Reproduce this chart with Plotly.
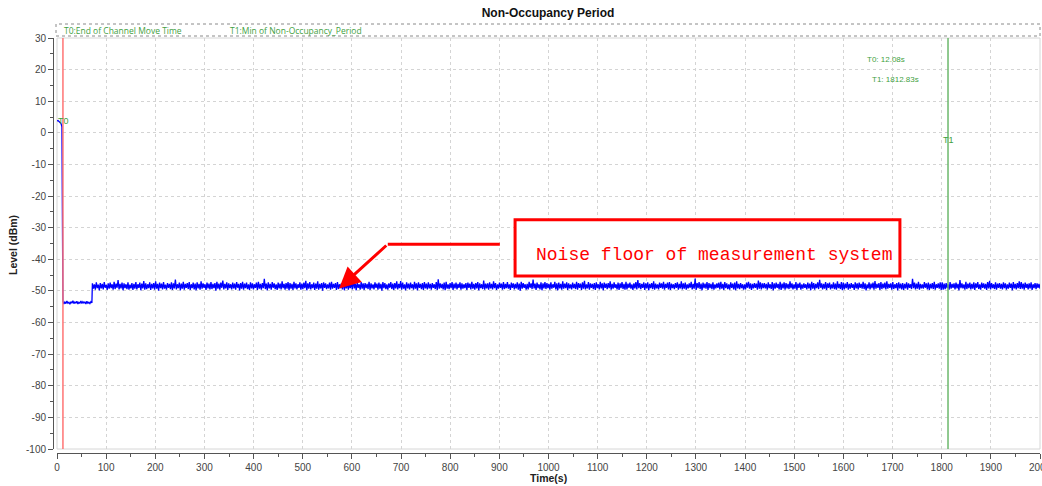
import plotly.graph_objects as go
import numpy as np

# ---------------- data ----------------
t0 = 12.08
t1 = 1812.83

pre_time = [0, 2, 4, 6, 8, 10]
pre_level = [3.8, 3.9, 3.6, 3.4, 3.0, 1.9]

low_start = 12
low_end = 71
low_level = [-53.3, -54.1, -53.5, -54.0, -53.2, -53.9, -53.6, -54.2, -53.4, -53.9,
             -53.1, -54.0, -53.5, -53.8, -53.3, -54.1, -53.6, -53.9, -53.2, -54.0,
             -53.4, -53.8, -53.5, -54.1, -53.3, -53.9, -53.6, -54.0, -53.4, -53.8]

noise_start = 72
noise_end = 2000
noise_level = [
    -47.6, -49.3, -47.9, -49.6, -47.3, -49.1, -48.0, -49.8, -47.5, -49.2, -47.8, -49.5, -47.2, -49.0, -48.1, -49.7, -47.6, -49.3, -47.4, -49.1,
    -47.9, -49.6, -47.1, -49.4, -47.7, -49.0, -46.6, -49.5, -47.8, -49.2, -47.4, -49.8, -47.6, -49.1, -47.9, -49.4, -47.3, -49.6, -48.0, -49.2,
    -47.5, -49.7, -47.8, -49.3, -47.2, -49.5, -47.9, -49.0, -47.4, -49.8, -47.7, -49.2, -46.9, -49.6, -47.6, -49.4, -47.9, -49.1, -47.3, -49.7,
    -47.8, -49.2, -47.5, -49.6, -47.0, -49.3, -47.8, -49.9, -47.4, -49.1, -47.7, -49.5, -47.2, -49.3, -48.0, -49.6, -47.5, -49.0, -47.8, -49.4,
    -47.3, -49.7, -47.6, -49.2, -46.4, -49.5, -47.9, -49.1, -47.4, -49.8, -47.7, -49.3, -47.1, -49.6, -47.8, -49.0, -47.5, -49.4, -47.2, -49.7,
    -47.9, -49.1, -47.4, -49.5, -47.7, -49.8, -47.3, -49.2, -47.8, -49.6, -47.0, -49.3, -47.6, -49.0, -47.9, -49.7, -47.4, -49.2, -47.7, -49.5,
    -47.2, -49.4, -47.8, -49.1, -47.5, -49.9, -47.1, -49.3, -47.7, -49.6, -47.4, -49.0, -46.7, -49.5, -47.8, -49.2, -47.3, -49.7, -47.6, -49.1,
    -47.9, -49.5, -47.4, -49.2, -47.7, -49.6, -47.2, -49.0, -47.8, -49.8, -47.5, -49.3, -47.1, -49.6, -47.7, -49.1, -47.4, -49.4, -47.9, -49.7,
    -47.3, -49.2, -47.6, -49.5, -47.9, -49.0, -47.4, -49.7, -47.1, -49.3, -47.8, -49.6, -47.5, -49.1, -46.2, -49.4, -47.7, -49.8, -47.3, -49.2,
    -47.8, -49.6, -47.2, -49.0, -47.6, -49.4, -47.9, -49.7, -47.4, -49.2, -47.7, -49.5, -47.0, -49.1, -47.8, -49.6, -47.5, -49.3, -47.2, -49.8,
    -47.5, -49.3, -47.8, -49.7, -47.1, -49.2, -47.6, -49.5, -47.9, -49.0, -47.3, -49.6, -47.7, -49.4, -47.4, -49.1, -46.8, -49.8, -47.6, -49.3,
    -47.2, -49.5, -47.9, -49.1, -47.4, -49.7, -47.7, -49.3, -47.0, -49.6, -47.8, -49.2, -47.5, -49.9, -47.3, -49.0, -47.6, -49.4, -47.9, -49.2,
    -47.4, -49.6, -47.1, -49.3, -47.8, -49.0, -47.5, -49.7, -47.2, -49.4, -47.9, -49.1, -47.6, -49.5, -47.0, -49.8, -47.7, -49.2, -47.4, -49.6,
    -47.8, -49.1, -47.3, -49.5, -46.5, -49.2, -47.7, -49.8, -47.4, -49.0, -47.9, -49.6, -47.2, -49.3, -47.6, -49.7, -47.5, -49.1, -47.8, -49.4,
    -47.1, -49.7, -47.6, -49.2, -47.9, -49.5, -47.3, -49.0, -47.7, -49.6, -47.4, -49.3, -47.8, -49.9, -47.2, -49.1, -47.5, -49.4, -47.9, -49.6,
    -47.6, -49.0, -47.2, -49.4, -47.7, -49.7, -47.5, -49.2, -47.0, -49.5, -47.8, -49.1, -46.9, -49.6, -47.4, -49.3, -47.9, -49.8, -47.3, -49.2,
    -47.7, -49.5, -47.4, -49.1, -47.9, -49.6, -47.1, -49.3, -47.6, -49.8, -47.3, -49.0, -47.8, -49.4, -47.5, -49.7, -47.2, -49.2, -47.7, -49.5,
    -47.3, -49.2, -47.8, -49.6, -47.5, -49.0, -47.9, -49.4, -47.2, -49.7, -46.3, -49.3, -47.6, -49.1, -47.8, -49.5, -47.4, -49.8, -47.1, -49.3,
    -47.9, -49.4, -47.5, -49.1, -47.2, -49.7, -47.7, -49.2, -47.4, -49.5, -47.8, -49.0, -47.3, -49.6, -47.6, -49.3, -47.9, -49.1, -47.5, -49.7,
    -47.4, -49.0, -47.7, -49.5, -47.1, -49.3, -47.8, -49.6, -47.5, -49.2, -47.2, -49.8, -47.6, -49.1, -47.9, -49.4, -46.7, -49.6, -47.7, -49.2,
    -47.6, -49.6, -47.3, -49.2, -47.8, -49.5, -47.0, -49.1, -47.5, -49.7, -47.9, -49.3, -47.4, -49.0, -47.7, -49.6, -47.2, -49.4, -47.8, -49.1,
    -47.2, -49.3, -47.9, -49.7, -47.4, -49.0, -47.6, -49.5, -47.8, -49.2, -47.3, -49.6, -47.7, -49.9, -47.1, -49.3, -47.5, -49.0, -47.9, -49.6,
    -47.8, -49.5, -47.1, -49.0, -47.6, -49.4, -46.4, -49.2, -47.7, -49.7, -47.4, -49.1, -47.9, -49.5, -47.3, -49.8, -47.6, -49.2, -47.2, -49.4,
    -47.5, -49.1, -47.8, -49.6, -47.3, -49.3, -47.9, -49.0, -47.1, -49.5, -47.6, -49.8, -47.4, -49.2, -47.8, -49.6, -47.0, -49.3, -47.7, -49.1,
    -47.3, -49.7, -47.6, -49.2, -47.9, -49.5, -47.4, -49.1, -47.8, -49.4, -47.1, -49.6, -47.5, -49.0, -47.7, -49.7, -47.3, -49.3, -46.8, -49.5,
    -47.9, -49.2, -47.2, -49.6, -47.6, -49.0, -47.8, -49.4, -47.5, -49.7, -47.3, -49.1, -47.9, -49.5, -47.1, -49.2, -47.6, -49.8, -47.4, -49.0,
    -47.7, -49.4, -47.5, -49.1, -47.0, -49.6, -47.8, -49.3, -47.3, -49.0, -47.9, -49.5, -47.4, -49.7, -47.6, -49.1, -47.2, -49.4, -47.8, -49.6,
    -47.1, -49.5, -47.7, -49.0, -47.4, -49.3, -47.9, -49.7, -47.6, -49.2, -47.2, -49.5, -46.6, -49.1, -47.5, -49.4, -47.8, -49.0, -47.3, -49.7,
    -47.6, -49.2, -47.3, -49.8, -47.8, -49.1, -47.5, -49.4, -47.0, -49.6, -47.7, -49.2, -47.9, -49.5, -47.4, -49.0, -47.6, -49.3, -47.1, -49.6,
    -47.8, -49.0, -47.4, -49.5, -47.2, -49.7, -47.7, -49.1, -47.9, -49.4, -47.5, -49.0, -47.3, -49.6, -47.8, -49.2, -47.0, -49.5, -47.6, -49.3,
    -47.4, -49.6, -47.9, -49.2, -47.6, -49.0, -47.1, -49.5, -47.8, -49.3, -46.1, -49.7, -47.5, -49.1, -47.2, -49.4, -47.7, -49.8, -47.4, -49.1,
    -47.7, -49.3, -47.2, -49.7, -47.5, -49.1, -47.8, -49.4, -47.3, -49.6, -47.9, -49.2, -47.6, -49.0, -47.4, -49.5, -47.1, -49.3, -47.8, -49.7,
    -47.2, -49.1, -47.6, -49.4, -47.9, -49.6, -47.3, -49.0, -47.7, -49.5, -47.4, -49.8, -47.0, -49.2, -47.8, -49.4, -47.5, -49.1, -47.9, -49.6,
    -47.9, -49.5, -47.4, -49.0, -47.1, -49.3, -47.6, -49.7, -47.8, -49.2, -47.5, -49.0, -47.7, -49.6, -46.7, -49.3, -47.3, -49.5, -47.6, -49.1,
    -47.5, -49.2, -47.8, -49.6, -47.3, -49.1, -47.9, -49.4, -47.2, -49.8, -47.6, -49.3, -47.4, -49.0, -47.8, -49.5, -47.1, -49.7, -47.7, -49.2,
    -47.3, -49.6, -47.5, -49.2, -47.8, -49.4, -47.0, -49.1, -47.6, -49.5, -47.9, -49.3, -47.2, -49.7, -47.7, -49.0, -47.4, -49.6, -47.9, -49.3,
    -47.6, -49.0, -47.9, -49.5, -47.4, -49.2, -47.7, -49.8, -47.1, -49.3, -47.5, -49.6, -47.8, -49.1, -47.3, -49.4, -46.5, -49.0, -47.6, -49.5,
    -47.8, -49.3, -47.2, -49.7, -47.6, -49.0, -47.4, -49.5, -47.9, -49.2, -47.3, -49.4, -47.7, -49.6, -47.0, -49.1, -47.8, -49.4, -47.2, -49.8,
    -47.4, -49.5, -47.7, -49.1, -47.2, -49.6, -47.8, -49.3, -47.5, -49.0, -47.9, -49.7, -47.3, -49.2, -47.6, -49.5, -47.4, -49.0, -47.8, -49.3,
    -47.1, -49.4, -47.6, -49.8, -47.9, -49.2, -47.3, -49.5, -47.7, -49.1, -47.4, -49.6, -46.9, -49.3, -47.8, -49.0, -47.5, -49.7, -47.2, -49.4,
    -47.7, -49.1, -47.4, -49.5, -47.0, -49.3, -47.8, -49.0, -47.6, -49.6, -47.2, -49.4, -47.9, -49.1, -47.5, -49.8, -47.3, -49.2, -47.7, -49.5,
    -47.5, -49.7, -47.8, -49.2, -47.3, -49.6, -47.6, -49.0, -47.9, -49.4, -46.2, -49.1, -47.4, -49.5, -47.7, -49.3, -47.1, -49.6, -47.8, -49.2,
    -47.9, -49.3, -47.2, -49.0, -47.6, -49.5, -47.4, -49.7, -47.8, -49.2, -47.5, -49.4, -47.1, -49.6, -47.9, -49.0, -47.6, -49.3, -47.3, -49.7,
    -47.3, -49.6, -47.7, -49.4, -47.5, -49.1, -47.9, -49.6, -47.2, -49.3, -47.8, -49.0, -47.6, -49.5, -47.4, -49.2, -47.8, -49.8, -46.6, -49.1,
    -47.6, -49.2, -47.9, -49.6, -47.1, -49.4, -47.7, -49.1, -47.4, -49.5, -47.8, -49.3, -47.3, -49.7, -47.6, -49.0, -47.2, -49.4, -47.9, -49.6,
    -47.4, -49.0, -47.6, -49.3, -47.8, -49.7, -47.2, -49.2, -46.8, -49.5, -47.5, -49.1, -47.9, -49.4, -47.3, -49.6, -47.7, -49.0, -47.5, -49.3,
    -47.8, -49.5, -47.3, -49.1, -47.6, -49.6, -47.9, -49.3, -47.4, -49.0, -47.7, -49.8, -47.2, -49.2, -47.8, -49.5, -47.5, -49.1, -47.0, -49.4,
    -47.2, -49.3, -47.7, -49.6, -47.4, -49.0, -47.8, -49.5, -47.6, -49.2, -47.3, -49.7, -47.9, -49.1, -47.5, -49.4, -47.6, -49.0, -47.8, -49.3,
]

x_ticks = list(range(0, 2001, 100))
y_ticks = list(range(-100, 31, 10))

legend_items = ["T0:End of Channel Move Time", "T1:Min of Non-Occupancy_Period"]
note_text = "Noise floor of measurement system"

# ---------------- figure ----------------
low_time = np.linspace(low_start, low_end, len(low_level))
noise_time = np.linspace(noise_start, noise_end, len(noise_level))
time_all = list(pre_time) + list(low_time) + list(noise_time)
level_all = list(pre_level) + list(low_level) + list(noise_level)

GREEN_TXT = "#3f9f3f"
GREEN_LINE = "#6cb86c"
RED_LINE = "#ff7373"
AX = "#555555"

fig = go.Figure()
fig.add_trace(go.Scatter(x=time_all, y=level_all, mode="lines",
                         line=dict(color="#0000ff", width=1.3), showlegend=False,
                         hoverinfo="skip"))

W, H = 1042, 486
ml, mr, mt, mb = 53, 2, 38, 33
pw = W - ml - mr
ph = H - mt - mb

tickfont = dict(family="Liberation Sans, Arial, sans-serif", size=10, color="#444444")

fig.update_layout(
    width=W, height=H,
    margin=dict(l=ml, r=mr, t=mt, b=mb, autoexpand=False),
    paper_bgcolor="white", plot_bgcolor="white",
    showlegend=False,
    title=dict(text="<b>Non-Occupancy Period</b>", x=548 / W, xanchor="center",
               y=1 - 13 / H, yanchor="middle", yref="container",
               font=dict(family="Liberation Sans, Arial, sans-serif", size=12, color="#111111")),
    xaxis=dict(range=[0, 2000], domain=[4 / pw, 1], anchor="free", position=0,
               tickvals=x_ticks, ticktext=[str(v) for v in x_ticks],
               ticks="outside", ticklen=5, tickcolor=AX, tickwidth=1,
               showline=True, linecolor=AX, linewidth=1, ticklabeloverflow="allow",
               showgrid=True, gridcolor="#d4d4d4", griddash="3px,3px", gridwidth=1,
               zeroline=False, tickfont=tickfont, automargin=False,
               minor=dict(dtick=50, tick0=0, ticks="outside", ticklen=3, tickcolor=AX, showgrid=False)),
    yaxis=dict(range=[-100, 30], domain=[4 / ph, 1], anchor="free", position=0,
               tickvals=y_ticks, ticktext=[str(v) for v in y_ticks],
               ticks="outside", ticklen=5, tickcolor=AX, tickwidth=1,
               showline=True, linecolor=AX, linewidth=1,
               showgrid=True, gridcolor="#d4d4d4", griddash="3px,3px", gridwidth=1,
               zeroline=False, tickfont=tickfont, automargin=False,
               minor=dict(dtick=5, tick0=0, ticks="outside", ticklen=3, tickcolor=AX, showgrid=False)),
)

# plot-area frame
fig.add_shape(type="rect", xref="x domain", yref="y domain", x0=0, x1=1, y0=0, y1=1,
              line=dict(color="#d6d6d6", width=1), layer="below")

# legend box above plot
fig.add_shape(type="rect", xref="paper", yref="paper",
              x0=(56 - ml) / pw, x1=(1040 - ml) / pw,
              y0=(H - mb - 36) / ph, y1=(H - mb - 24) / ph,
              line=dict(color="#8a8a8a", width=1, dash="dot"))
legend_x = [62, 228]
for txt, px in zip(legend_items, legend_x):
    fig.add_annotation(text=txt, xref="paper", yref="paper",
                       x=(px - ml) / pw, y=(H - mb - 30) / ph, xanchor="left", yanchor="middle",
                       showarrow=False, font=dict(family="Open Sans, sans-serif", size=8.5, color=GREEN_TXT))

# marker lines
fig.add_shape(type="line", xref="x", yref="y domain", x0=t0, x1=t0, y0=0, y1=1,
              line=dict(color=RED_LINE, width=1.5))
fig.add_shape(type="line", xref="x", yref="y domain", x0=t1, x1=t1, y0=0, y1=1,
              line=dict(color=GREEN_LINE, width=1.5))
fig.add_annotation(text="T0", x=t0 + 1, y=3.7, showarrow=False,
                   font=dict(family="Liberation Sans, Arial", size=9, color=GREEN_TXT))
fig.add_annotation(text="T1", x=t1, y=-2.3, showarrow=False,
                   font=dict(family="Liberation Sans, Arial", size=9, color=GREEN_TXT))
fig.add_annotation(text=f"T0: {t0:.2f}s", x=1644, y=23.3, xanchor="left", showarrow=False,
                   font=dict(family="Liberation Sans, Arial", size=8, color=GREEN_TXT))
fig.add_annotation(text=f"T1: {t1:.2f}s", x=1654, y=17.0, xanchor="left", showarrow=False,
                   font=dict(family="Liberation Sans, Arial", size=8, color=GREEN_TXT))

# noise floor callout
fig.add_shape(type="rect", xref="x", yref="y", x0=932, x1=1715, y0=-45.3, y1=-27.5,
              line=dict(color="#ff0000", width=3), fillcolor="white")
fig.add_annotation(text=note_text, x=1336, y=-38.6, showarrow=False,
                   xanchor="center", yanchor="middle",
                   font=dict(family="Liberation Mono, Courier New, monospace", size=18, color="#ff0000"))
fig.add_shape(type="line", xref="x", yref="y", x0=673, x1=901, y0=-35.2, y1=-35.2,
              line=dict(color="#ff0000", width=3))
fig.add_annotation(text="", x=574, y=-49.2, ax=673, ay=-35.2, axref="x", ayref="y",
                   showarrow=True, arrowhead=2, arrowsize=1.4, arrowwidth=3, arrowcolor="#ff0000")

# axis titles
fig.add_annotation(text="<b>Time(s)</b>", xref="paper", yref="paper",
                   x=(548 - ml) / pw, y=(H - mb - 478) / ph, showarrow=False,
                   xanchor="center", yanchor="middle",
                   font=dict(family="Liberation Sans, Arial", size=10.5, color="#222222"))
fig.add_annotation(text="<b>Level (dBm)</b>", xref="paper", yref="paper",
                   x=(13 - ml) / pw, y=(H - mb - 245) / ph, showarrow=False, textangle=-90,
                   xanchor="center", yanchor="middle",
                   font=dict(family="Liberation Sans, Arial", size=10.5, color="#222222"))

fig.write_html("out.html", config={"displayModeBar": False},
               post_script="document.body.style.margin='0';document.body.style.overflow='hidden';")
